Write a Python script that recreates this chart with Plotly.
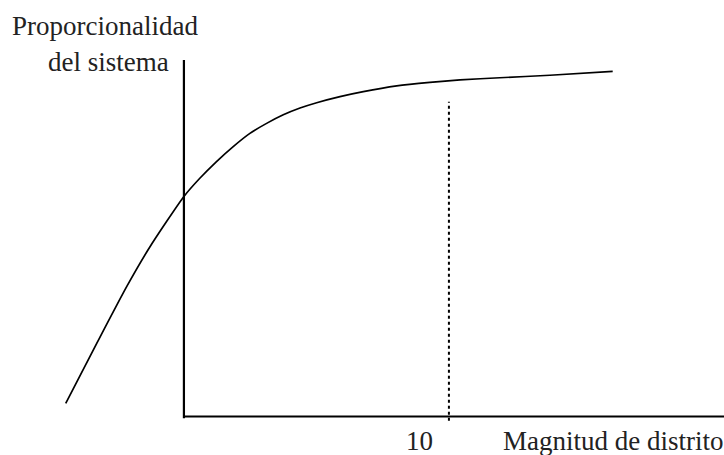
import plotly.graph_objects as go

# Conceptual curve: proportionality vs district magnitude
curve_x = [-4.46, -3.29, -2.16, -1.28, 0.0, 0.60, 1.23, 1.86, 2.49, 3.12, 3.75, 4.38,
           5.01, 5.89, 6.77, 8.03, 9.28, 10.42, 11.92, 13.81, 16.18]
curve_y = [3.7, 20.5, 36.4, 47.6, 61.7, 66.8, 71.5, 75.7, 79.4, 82.2, 84.6, 86.5,
           88.0, 89.7, 91.1, 92.7, 93.7, 94.4, 95.0, 95.7, 96.8]

marker_x = 10          # dotted reference magnitude
marker_top = 88.3
yaxis_top = 100
x_tick_label = "10"
x_title = "Magnitud de distrito"
y_title_lines = ["Proporcionalidad", "del sistema"]

X_RANGE = [-6.94, 20.38]
Y_RANGE = [-10.8, 116.8]

fig = go.Figure()

# horizontal axis
fig.add_trace(go.Scatter(x=[0, X_RANGE[1] + 1], y=[0, 0], mode="lines",
                         line=dict(color="black", width=2.2), hoverinfo="skip"))
# vertical axis
fig.add_trace(go.Scatter(x=[0, 0], y=[-0.5, yaxis_top], mode="lines",
                         line=dict(color="black", width=2.2), hoverinfo="skip"))
# dotted marker line
fig.add_trace(go.Scatter(x=[marker_x, marker_x], y=[-1.2, marker_top], mode="lines",
                         line=dict(color="black", width=2, dash="dot"), hoverinfo="skip"))
# curve
fig.add_trace(go.Scatter(x=curve_x, y=curve_y, mode="lines",
                         line=dict(color="black", width=1.7, shape="spline", smoothing=0.6),
                         hoverinfo="skip"))

font = dict(family="Liberation Serif", size=27, color="#222222")

fig.add_annotation(text=y_title_lines[0], xref="paper", yref="paper",
                   x=10 / 724, y=1 - 26 / 455, xanchor="left", yanchor="middle",
                   showarrow=False, font=font)
fig.add_annotation(text=y_title_lines[1], xref="paper", yref="paper",
                   x=46 / 724, y=1 - 62 / 455, xanchor="left", yanchor="middle",
                   showarrow=False, font=font)
fig.add_annotation(text=x_tick_label, xref="paper", yref="paper",
                   x=419 / 724, y=1 - 441 / 455, xanchor="center", yanchor="middle",
                   showarrow=False, font=font)
fig.add_annotation(text=x_title, xref="paper", yref="paper",
                   x=501 / 724, y=1 - 441 / 455, xanchor="left", yanchor="middle",
                   showarrow=False, font=font)

fig.update_layout(
    width=724, height=455,
    margin=dict(l=0, r=0, t=0, b=0),
    paper_bgcolor="white", plot_bgcolor="white",
    showlegend=False,
    xaxis=dict(range=X_RANGE, visible=False, fixedrange=True),
    yaxis=dict(range=Y_RANGE, visible=False, fixedrange=True),
)

fig.write_html("out.html", config={"displayModeBar": False},
               post_script="document.body.style.margin='0';document.body.style.overflow='hidden';")
